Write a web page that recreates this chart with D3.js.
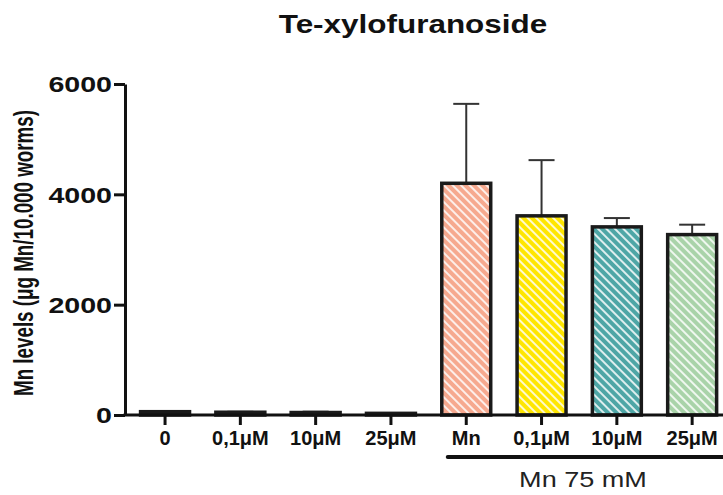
<!DOCTYPE html>
<html>
<head>
<meta charset="utf-8">
<script src="https://cdn.jsdelivr.net/npm/d3@7"></script>
<style>
    body { margin: 0; background: #fff; }
    svg { display: block; font-family: "Liberation Sans", Arial, sans-serif; }
</style>
</head>
<body>
<svg id="chart" width="723" height="495"></svg>
<script>
"use strict";

// values
var labels = ["0", "0,1\u03bcM", "10\u03bcM", "25\u03bcM", "Mn", "0,1\u03bcM", "10\u03bcM", "25\u03bcM"];
var means = [60, 50, 45, 30, 4200, 3610, 3410, 3270];
var sems = [10, 8, 15, 5, 1440, 1010, 160, 180];
var colors = ["#ffffff", "#ffffff", "#ffffff", "#ffffff", "#f6a98f", "#ffe600", "#4ea6a6", "#a9d3a9"];
var yTicks = [0, 2000, 4000, 6000];
var groupLabel = "Mn 75 mM";
var groupFrom = 4;

var svg = d3.select("#chart");
var svgWidth = Number(svg.attr("width"));

var x = d3.scaleBand()
    .domain(d3.range(labels.length))
    .range([127.4, 729.8])
    .paddingInner(0.35)
    .paddingOuter(0.175);
var y = d3.scaleLinear().domain([0, 6000]).range([415, 84]);
var axisX = 125;

// hatch patterns
var defs = svg.append("defs");
colors.forEach(function (c, i) {
    var p = defs.append("pattern")
        .attr("id", "hatch" + i)
        .attr("patternUnits", "userSpaceOnUse")
        .attr("width", 6).attr("height", 6)
        .attr("patternTransform", "rotate(-45)");
    p.append("rect").attr("width", 6).attr("height", 6).attr("fill", c);
    p.append("line")
        .attr("x1", 3).attr("y1", 0).attr("x2", 3).attr("y2", 6)
        .attr("stroke", "#fff").attr("stroke-width", 1.8).attr("stroke-opacity", 0.9);
});

// title
svg.append("text")
    .attr("transform", "translate(413,33) scale(1.21,1)")
    .attr("text-anchor", "middle")
    .style("font-size", "26px").style("font-weight", "bold").style("fill", "#111")
    .text("Te-xylofuranoside");

// y axis label
svg.append("text")
    .attr("transform", "translate(33,253) scale(1.4,1) rotate(-90)")
    .attr("text-anchor", "middle")
    .attr("textLength", 286).attr("lengthAdjust", "spacingAndGlyphs")
    .style("font-size", "20px").style("font-weight", "bold").style("fill", "#111")
    .text("Mn levels (\u03bcg Mn/10.000 worms)");

// error bars
var errG = svg.append("g").attr("class", "errors");
var errs = errG.selectAll("g").data(means).enter().append("g");
errs.append("line")
    .attr("x1", function (d, i) { return x(i) + x.bandwidth() / 2; })
    .attr("x2", function (d, i) { return x(i) + x.bandwidth() / 2; })
    .attr("y1", function (d) { return y(d); })
    .attr("y2", function (d, i) { return y(d + sems[i]); })
    .attr("stroke", "#333").attr("stroke-width", 2);
errs.append("line")
    .attr("x1", function (d, i) { return x(i) + x.bandwidth() / 2 - 13; })
    .attr("x2", function (d, i) { return x(i) + x.bandwidth() / 2 + 13; })
    .attr("y1", function (d, i) { return y(d + sems[i]); })
    .attr("y2", function (d, i) { return y(d + sems[i]); })
    .attr("stroke", "#333").attr("stroke-width", 2);

// bars
svg.append("g").attr("class", "bars")
    .selectAll("rect").data(means).enter().append("rect")
    .attr("x", function (d, i) { return x(i); })
    .attr("width", x.bandwidth())
    .attr("y", function (d) { return y(d); })
    .attr("height", function (d) { return y(0) - y(d); })
    .attr("fill", function (d, i) { return "url(#hatch" + i + ")"; })
    .attr("stroke", "#1a1a1a").attr("stroke-width", 3.5);

// y axis
var yAxis = d3.axisLeft(y).tickValues(yTicks).tickSize(11).tickSizeOuter(0).tickFormat(d3.format("d"));
var gY = svg.append("g").attr("class", "axis axis-y")
    .attr("transform", "translate(" + axisX + ",0)")
    .call(yAxis);
gY.select(".domain").attr("stroke", "#111").attr("stroke-width", 3);
gY.selectAll(".tick line").attr("stroke", "#111").attr("stroke-width", 3);
gY.selectAll(".tick text")
    .attr("x", null).attr("dy", null)
    .attr("transform", "translate(-13,0) scale(1.3,1)")
    .attr("dy", "0.36em")
    .style("font-size", "22px").style("font-weight", "bold").style("fill", "#111")
    .style("font-family", "'Liberation Sans', Arial, sans-serif");

// x axis
var xAxis = d3.axisBottom(x).tickSize(10).tickSizeOuter(0)
    .tickFormat(function (i) { return labels[i]; });
var gX = svg.append("g").attr("class", "axis axis-x")
    .attr("transform", "translate(0," + y(0) + ")")
    .call(xAxis);
gX.select(".domain").remove();
gX.append("line")
    .attr("x1", axisX - 1.5).attr("x2", svgWidth)
    .attr("stroke", "#111").attr("stroke-width", 3);
gX.selectAll(".tick line").attr("stroke", "#111").attr("stroke-width", 3);
gX.selectAll(".tick text")
    .attr("y", 30).attr("dy", null)
    .style("font-size", "20px").style("font-weight", "bold").style("fill", "#111")
    .style("font-family", "'Liberation Sans', Arial, sans-serif");

// group bracket
var bracketStart = x(groupFrom) + 6;
svg.append("line")
    .attr("x1", bracketStart).attr("x2", svgWidth + 5)
    .attr("y1", 457).attr("y2", 457)
    .attr("stroke", "#111").attr("stroke-width", 4).attr("stroke-linecap", "round");
svg.append("text")
    .attr("transform", "translate(583,487) scale(1.23,1)")
    .attr("text-anchor", "middle")
    .style("font-size", "22px").style("fill", "#222")
    .text(groupLabel);
</script>
</body>
</html>
